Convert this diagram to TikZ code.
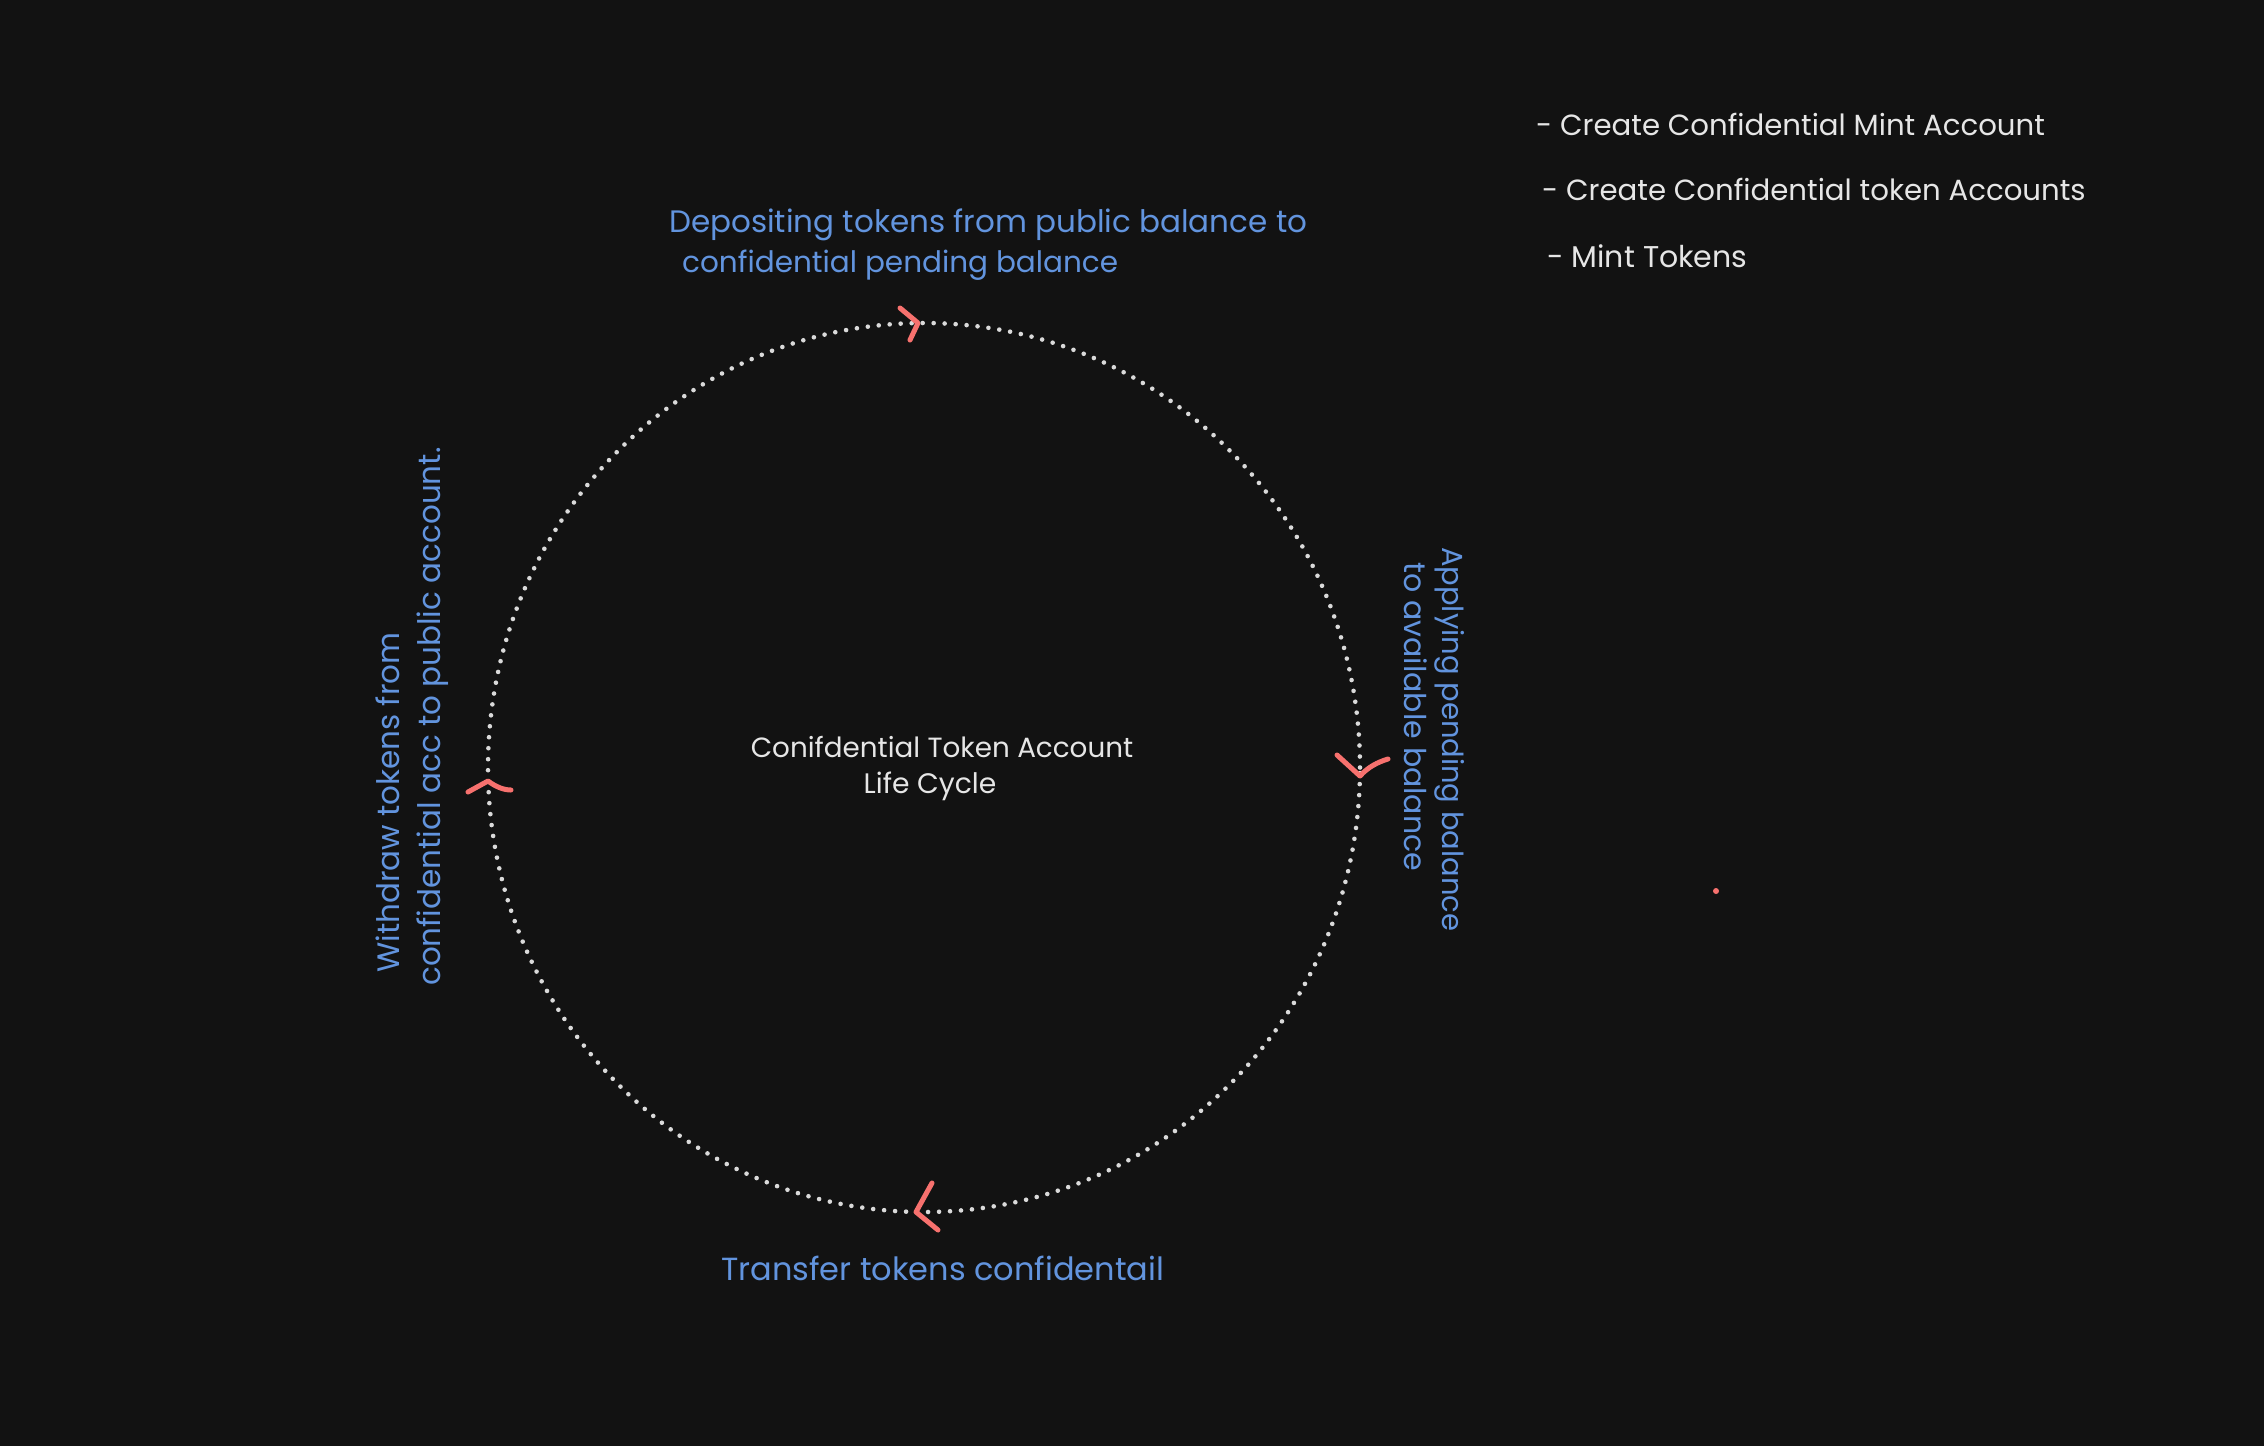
\documentclass[tikz,border=0pt]{standalone}
\usepackage{fontspec}
\setmainfont{Poppins}
\definecolor{bg}{HTML}{121212}
\definecolor{lblue}{HTML}{6294DE}
\definecolor{ltext}{HTML}{E6E6E6}
\definecolor{ldot}{HTML}{DADADA}
\definecolor{lred}{HTML}{F7716E}
\newcommand{\fsz}[1]{\fontsize{#1}{#1}\selectfont}
\begin{document}
\begin{tikzpicture}[x=1pt,y=-1pt,
  bluetxt/.style={text=lblue, font=\fsz{#1}, inner sep=0pt, anchor=base west},
  bluetxt/.default=30,
  whitetxt/.style={text=ltext, font=\fsz{#1}, inner sep=0pt, anchor=base west},
  whitetxt/.default=29.2,
  centertxt/.style={text=ltext, font=\fsz{#1}, inner sep=0pt, anchor=base},
  centertxt/.default=28,
  dotring/.style={draw=ldot, line width=4.6pt, line cap=round, dash pattern=on 0pt off 11pt},
  chev/.style={draw=lred, line width=5pt, line cap=round, line join=round}]
\fill[bg] (0,0) rectangle (2264,1446);
\useasboundingbox (0,0) rectangle (2264,1446);

% cycle ring
\coordinate (cyc) at (924,767.5);
\draw[dotring] (cyc) ellipse [x radius=436pt, y radius=444.5pt];

% arrowheads (clockwise)
\draw[chev] (900,308) -- (918,323) -- (910,340);
\draw[chev] (1337,755) -- (1360,776) .. controls (1368,767) and (1378,762) .. (1388,759);
\draw[chev] (932,1183) -- (916,1212) -- (938,1230);
\draw[chev] (468,792) -- (488,781) .. controls (496,787) and (504,790) .. (511,790);

% centre label
\node[centertxt=27.8] (c1) at (942,757) {Conifdential Token Account};
\node[centertxt=28.2] (c2) at (930,793) {Life Cycle};

% step labels
\node[bluetxt=31] (dep1) at (669,232) {Depositing tokens from public balance to};
\node[bluetxt=29.5] (dep2) at (682,272) {confidential pending balance};
\node[bluetxt=29, rotate=-90] (app1) at (1442,547) {Applying pending balance};
\node[bluetxt=30, rotate=-90] (app2) at (1404,562) {to available balance};
\node[bluetxt=32, ] (tra) at (721,1280) {Transfer tokens confidentail};
\node[bluetxt=31, rotate=90] (wd1) at (399,973) {Withdraw tokens from};
\node[bluetxt=31, rotate=90] (wd2) at (440,986) {confidential acc to public account.};

% setup list
\node[whitetxt] (s1) at (1536,135) {- Create Confidential Mint Account};
\node[whitetxt] (s2) at (1542,200) {- Create Confidential token Accounts};
\node[whitetxt=30] (s3) at (1547,267) {- Mint Tokens};

% stray dot
\fill[lred] (1716,891) circle (3pt);
\end{tikzpicture}
\end{document}
